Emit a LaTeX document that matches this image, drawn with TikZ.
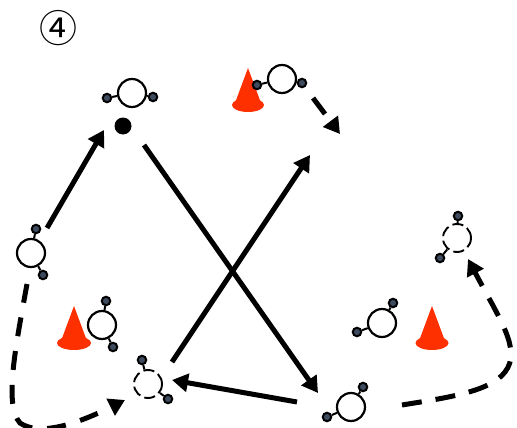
\documentclass[tikz,border=0pt]{standalone}
\usepackage{fontspec}
\usetikzlibrary{arrows.meta}
\newfontfamily\symfont{Noto Sans CJK JP}
\definecolor{conered}{HTML}{FF3000}
\definecolor{handblue}{HTML}{3E4A5E}
\tikzset{
  x=1pt,y=-1pt,
  body/.style={circle,draw=black,line width=2.2pt,minimum size=28pt,inner sep=0pt,fill=white},
  ghost/.style={body,line width=1.9pt,dash pattern=on 11pt off 4.5pt},
  hand/.style={circle,draw=black,fill=handblue,line width=2pt,minimum size=8.5pt,inner sep=0pt},
  limb/.style={line width=2pt},
  pass/.style={line width=5pt,-{Triangle[length=16pt,width=18pt]}},
  run/.style={pass,dash pattern=on 20pt off 14pt},
  ball/.style={circle,fill=black,minimum size=17pt,inner sep=0pt},
  conebody/.style={fill=conered,draw=none},
  numeral/.style={inner sep=0pt,font=\symfont\fontsize{38pt}{38pt}\selectfont},
}
\newcommand{\playerat}[8]{%
  \node[hand] (#1a) at (#5,#6) {};
  \node[hand] (#1b) at (#7,#8) {};
  \node[#2] (#1) at (#3,#4) {};
  \draw[limb] (#1) -- (#1a);
  \draw[limb] (#1) -- (#1b);
}
\newcommand{\coneat}[4]{%
  \fill[conebody] (#1,#2) -- (#1+13,#3-2) -- (#1-13,#3-2) -- cycle;
  \fill[conebody] (#1,#3) ellipse [x radius=#4,y radius=7];
}
\begin{document}
\begin{tikzpicture}
\useasboundingbox (0,0) rectangle (517,428);
\node[numeral] (num) at (58,28) {④};
\coneat{248}{68}{105}{16}
\coneat{74}{306}{343}{17}
\coneat{432}{306}{343}{16.5}
\playerat{pa}{body}{132}{93}{107}{98}{153}{97}
\playerat{pb}{body}{282}{79}{257}{85}{302}{83}
\playerat{pc}{body}{31}{253}{36}{229}{43}{275}
\playerat{pd}{body}{102}{325}{106}{301}{113}{347}
\playerat{pe}{ghost}{148}{384}{142}{360}{168}{399}
\playerat{pf}{ghost}{457}{238}{458}{216}{440}{258}
\playerat{pg}{body}{382}{323}{393}{303}{357}{332}
\playerat{ph}{body}{351}{407}{363}{387}{327}{417}
\node[ball] (bl) at (123,126) {};
\coordinate (s1) at (47,228); \coordinate (e1) at (104,130);
\coordinate (s2) at (144,145); \coordinate (e2) at (318,393);
\coordinate (s3) at (172,362); \coordinate (e3) at (310,155);
\coordinate (s4) at (297,402); \coordinate (e4) at (172,380);
\coordinate (s5) at (313,98); \coordinate (e5) at (340,134);
\coordinate (s6) at (27,284); \coordinate (e6) at (125,400);
\coordinate (s7) at (402,405); \coordinate (e7) at (468,259);
\draw[pass] (s1) -- (e1);
\draw[pass] (s2) -- (e2);
\draw[pass] (s3) -- (e3);
\draw[pass] (s4) -- (e4);
\draw[run,dash pattern=on 20pt off 12pt] (s5) -- (e5);
\draw[run,dash pattern=on 19pt off 15pt] (s6) .. controls (15,350) and (4,405) .. (20,423) .. controls (42,438) and (85,420) .. (e6);
\draw[run] (s7) .. controls (445,398) and (490,392) .. (505,372) .. controls (522,350) and (500,320) .. (e7);
\end{tikzpicture}
\end{document}
